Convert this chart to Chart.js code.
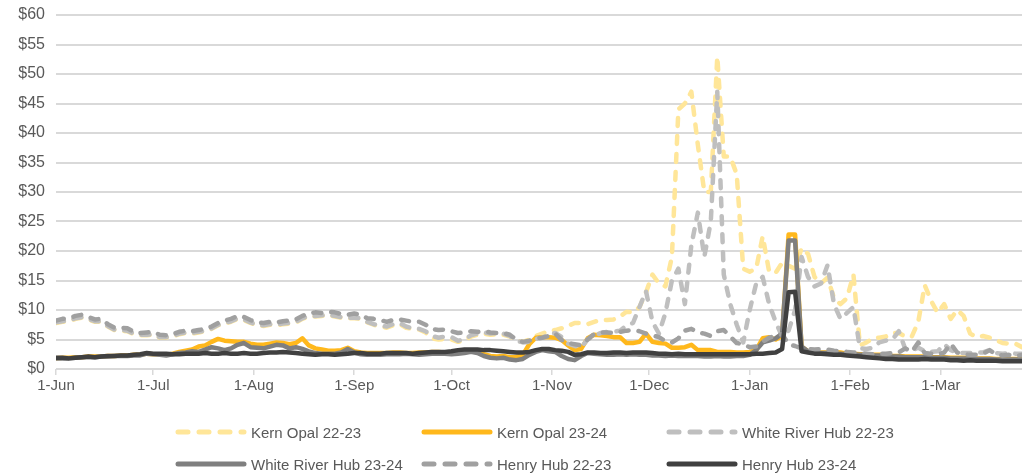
<!DOCTYPE html>
<html>
<head>
<meta charset="utf-8">
<script src="https://cdn.jsdelivr.net/npm/chart.js@4.4.1/dist/chart.umd.min.js"></script>
<style>
  body { margin: 0; background: #fff; }
  #wrap { position: relative; width: 1025px; height: 473px; }
  #myChart { display: block; }
  .legend-item { position: absolute; display: flex; align-items: center; height: 20px;
    font-family: "Liberation Sans", Arial, sans-serif; font-size: 15px; color: #595959; white-space: nowrap; }
  .legend-item svg { margin-right: 4px; }
</style>
</head>
<body>
<div id="wrap">
  <canvas id="myChart" width="1025" height="473"></canvas>
</div>
<script>
// MONTH TICKS (DAY NUMBER COUNTED FROM 1-JUN)
let monthLabels = ["1-Jun", "1-Jul", "1-Aug", "1-Sep", "1-Oct", "1-Nov", "1-Dec", "1-Jan", "1-Feb", "1-Mar"];
let monthDays = [0, 30, 61, 92, 122, 153, 183, 214, 245, 273];
let dayStep = 2; // one value every 2 days
let lastDay = 298;

let seriesNames = ["Kern Opal 22-23", "Kern Opal 23-24", "White River Hub 22-23", "White River Hub 23-24", "Henry Hub 22-23", "Henry Hub 23-24"];

// PRICES ($/MMBtu)
let kernOpal2223 = [
	7.8,8.0,8.1,8.5,8.7,8.4,8.0,8.0,7.2,6.6,
	6.5,6.4,5.9,5.7,5.7,5.8,5.3,5.3,5.5,5.9,
	6.1,6.0,6.2,6.4,6.8,7.4,7.7,8.0,8.5,8.3,
	7.8,7.4,7.3,7.5,7.4,7.6,7.7,7.9,8.5,8.9,
	8.9,9.0,9.1,8.9,8.7,8.6,8.6,8.5,7.9,7.5,
	7.2,7.0,7.4,7.6,7.0,6.8,6.7,6.2,5.2,5.0,
	5.1,5.0,4.6,4.8,5.5,5.8,6.0,5.8,5.9,5.8,
	5.5,4.8,4.6,5.0,5.6,6.0,6.4,6.6,6.9,7.3,
	7.8,7.8,7.6,8.0,8.3,8.3,8.4,8.9,9.7,9.6,
	10.5,13.0,16.0,14.5,14.0,19.0,44.0,45.0,47.0,38.0,
	30.0,30.0,53.0,36.0,36.0,33.0,17.0,16.5,17.0,22.5,
	16.5,16.3,18.0,17.5,17.0,20.5,19.5,15.6,14.5,15.5,
	12.0,11.0,12.0,16.0,4.0,4.5,5.2,5.3,5.5,6.1,
	6.1,5.5,5.5,8.0,14.2,11.5,9.5,11.0,8.5,10.0,
	9.0,6.0,5.4,5.6,5.3,4.9,4.4,4.3,4.3,3.7
];
let kernOpal2324 = [
	1.8,1.9,1.9,2.0,2.0,2.1,2.1,2.1,2.2,2.2,
	2.3,2.3,2.4,2.4,2.6,2.5,2.5,2.4,2.6,2.9,
	3.1,3.3,3.8,4.0,4.6,5.1,4.8,4.7,4.6,4.6,
	4.3,4.1,4.1,4.3,4.5,4.4,4.2,4.4,5.2,4.0,
	3.5,3.3,3.1,3.1,3.2,3.6,3.0,2.8,2.7,2.7,
	2.7,2.7,2.8,2.8,2.7,2.7,2.8,2.8,2.9,2.9,
	2.8,2.8,2.9,3.0,3.1,2.9,2.5,2.2,2.1,2.2,
	2.0,2.0,2.4,4.2,5.3,5.4,5.4,5.3,4.9,4.0,
	3.2,3.4,5.2,5.8,5.7,5.6,5.4,5.4,4.4,4.4,
	4.6,6.0,4.6,4.4,4.3,3.6,3.6,3.7,4.1,3.2,
	3.2,3.2,2.9,2.9,2.9,2.8,2.8,2.9,3.2,5.2,
	5.4,5.0,5.6,22.8,22.8,3.8,3.0,2.9,2.8,2.8,
	2.9,2.8,2.6,2.6,2.5,2.5,2.4,2.4,2.3,2.2,
	2.2,2.1,2.1,2.1,2.1,2.0,2.0,2.0,1.9,1.9,
	1.9,1.9,1.8,1.8,1.8,1.7,1.7,1.7,1.7,1.7
];
let whiteRiver2223 = [
	7.9,8.1,8.2,8.6,8.8,8.5,8.1,8.1,7.3,6.7,
	6.6,6.5,6.0,5.8,5.8,5.9,5.4,5.4,5.6,6.0,
	6.2,6.1,6.3,6.5,6.9,7.5,7.8,8.1,8.6,8.4,
	7.9,7.5,7.4,7.6,7.5,7.7,7.8,8.0,8.6,9.0,
	9.0,9.1,9.2,9.0,8.8,8.7,8.7,8.6,8.0,7.6,
	7.3,7.2,7.6,7.8,7.2,6.9,6.8,6.4,5.6,5.3,
	5.5,5.4,4.8,5.0,5.7,6.0,6.2,6.0,6.1,6.0,
	5.6,4.8,4.5,4.6,5.1,5.3,5.8,6.1,5.4,4.3,
	3.9,3.7,5.0,5.6,6.1,6.3,6.3,6.5,7.4,7.8,
	10.5,13.2,8.0,6.0,9.5,15.0,17.0,11.0,21.0,26.5,
	19.0,25.0,47.0,16.0,11.0,7.5,4.5,10.0,14.5,15.6,
	11.0,8.0,5.5,6.5,10.0,19.0,15.6,14.0,14.5,17.6,
	11.0,8.5,9.5,10.5,3.5,3.4,3.6,4.5,4.8,5.0,
	6.4,3.4,3.2,3.6,3.0,2.9,3.0,4.2,3.2,2.8,
	2.7,2.7,2.8,2.8,3.2,2.7,2.6,2.7,2.6,2.6
];
let whiteRiver2324 = [
	1.8,1.8,1.8,1.9,2.0,2.0,2.0,2.1,2.1,2.2,
	2.2,2.2,2.3,2.3,2.6,2.5,2.4,2.3,2.5,2.7,
	2.8,3.0,2.9,3.3,3.7,3.5,3.2,3.5,4.1,4.4,
	3.7,3.6,3.5,3.8,4.1,4.0,3.5,3.7,3.4,3.0,
	2.7,2.6,2.6,2.6,2.8,3.4,2.8,2.5,2.4,2.4,
	2.4,2.5,2.5,2.5,2.6,2.5,2.4,2.5,2.6,2.6,
	2.6,2.5,2.6,2.7,2.9,2.7,2.2,1.9,1.8,1.9,
	1.6,1.5,1.7,2.4,2.9,3.2,3.0,2.9,2.2,1.7,
	1.5,2.2,2.7,2.6,2.5,2.4,2.4,2.5,2.4,2.5,
	2.4,2.4,2.3,2.3,2.2,2.3,2.2,2.2,2.2,2.2,
	2.1,2.1,2.2,2.1,2.1,2.2,2.2,2.4,3.2,4.5,
	4.8,5.2,6.0,21.8,21.8,3.8,3.0,2.8,2.7,2.7,
	2.6,2.6,2.5,2.5,2.4,2.4,2.3,2.3,2.2,2.1,
	2.1,2.0,2.0,2.0,2.0,1.9,1.9,1.9,1.8,1.8,
	1.8,1.8,1.7,1.7,1.7,1.6,1.6,1.6,1.6,1.6
];
let henryHub2223 = [
	8.2,8.5,8.6,9.0,9.2,8.8,8.4,8.5,7.6,7.0,
	7.0,6.9,6.3,6.1,6.2,6.3,5.8,5.7,5.9,6.3,
	6.5,6.4,6.6,6.8,7.2,7.8,8.2,8.5,9.0,8.8,
	8.3,7.9,7.8,8.0,7.9,8.1,8.2,8.4,9.0,9.4,
	9.6,9.5,9.7,9.6,9.3,9.2,9.4,9.2,8.6,8.5,
	8.3,8.0,8.3,8.4,8.2,8.0,8.0,7.5,6.8,6.6,
	6.7,6.4,6.1,6.2,6.4,6.3,6.4,6.2,6.1,6.1,
	5.8,5.0,4.6,4.8,5.2,5.3,5.6,6.0,4.9,4.4,
	4.2,4.0,5.0,5.9,6.2,6.2,6.1,6.3,6.5,6.6,
	6.4,6.0,5.7,5.4,4.7,4.5,5.2,6.5,6.8,6.2,
	6.0,5.6,6.4,6.6,5.5,4.4,4.2,3.7,3.8,4.6,
	5.3,5.6,5.9,4.2,3.9,3.5,3.4,3.3,3.4,3.3,
	3.1,3.0,2.9,2.8,2.7,2.6,2.5,2.6,2.6,2.7,
	2.8,3.5,2.9,4.5,2.7,2.6,2.5,2.8,4.3,2.8,
	2.5,2.4,2.4,2.6,3.2,2.5,2.3,2.4,2.2,2.4
];
let henryHub2324 = [
	1.9,1.9,1.8,1.9,2.0,2.1,2.0,2.1,2.2,2.2,
	2.3,2.3,2.4,2.5,2.7,2.6,2.6,2.6,2.5,2.5,
	2.6,2.6,2.6,2.7,2.6,2.6,2.7,2.6,2.6,2.7,
	2.6,2.6,2.7,2.8,2.8,2.9,2.8,2.7,2.6,2.5,
	2.4,2.5,2.5,2.4,2.5,2.6,2.7,2.7,2.6,2.6,
	2.6,2.7,2.7,2.7,2.7,2.6,2.7,2.8,2.9,2.9,
	2.9,3.0,3.2,3.3,3.3,3.3,3.2,3.2,3.1,3.0,
	2.9,2.8,2.8,2.9,3.2,3.4,3.4,3.2,3.1,2.9,
	2.4,2.5,2.8,2.8,2.7,2.7,2.8,2.8,2.7,2.8,
	2.8,2.8,2.7,2.6,2.6,2.5,2.6,2.5,2.5,2.5,
	2.5,2.5,2.5,2.5,2.5,2.5,2.5,2.5,2.6,2.6,
	2.7,2.8,3.4,13.0,13.1,3.0,2.8,2.6,2.6,2.5,
	2.4,2.4,2.3,2.2,2.1,2.0,1.9,1.8,1.7,1.7,
	1.6,1.6,1.6,1.6,1.7,1.6,1.6,1.6,1.5,1.5,
	1.4,1.5,1.4,1.4,1.4,1.4,1.3,1.3,1.3,1.3
];

let seriesColors = ["#FFE699", "#FFB81C", "#BFBFBF", "#7F7F7F", "#A0A0A0", "#404040"];
let seriesDashed = [true, false, true, false, true, false];
let seriesValues = [kernOpal2223, kernOpal2324, whiteRiver2223, whiteRiver2324, henryHub2223, henryHub2324];

// TURN A VALUE LIST INTO {x: day, y: price} POINTS
function toPoints(values) {
	return values.map((v, i) => ({ x: i * dayStep, y: v }));
}

let datasets = seriesNames.map((name, i) => ({
	label: name,
	data: toPoints(seriesValues[i]),
	borderColor: seriesColors[i],
	backgroundColor: seriesColors[i],
	borderWidth: 4.5,
	borderDash: seriesDashed[i] ? [8, 10] : [],
	borderCapStyle: "round",
	borderJoinStyle: "round",
	pointRadius: 0,
	tension: 0,
	order: seriesNames.length - i, // later series on top
}));

const fontFamily = '"Liberation Sans", Arial, sans-serif';

const ctx = document.getElementById("myChart").getContext("2d");
const myChart = new Chart(ctx, {
	type: "line",
	data: { datasets: datasets },
	options: {
		responsive: false,
		animation: false,
		devicePixelRatio: 1,
		layout: { padding: { top: 15, right: 3, bottom: 74, left: 0 } },
		plugins: { legend: { display: false }, tooltip: { enabled: false } },
		scales: {
			x: {
				type: "linear",
				min: 0,
				max: lastDay,
				afterBuildTicks: (scale) => {
					scale.ticks = monthDays.map((d) => ({ value: d }));
				},
				afterFit: (scale) => { scale.height = 30; },
				ticks: {
					autoSkip: false,
					maxRotation: 0,
					padding: 2,
					color: "#595959",
					font: { family: fontFamily, size: 15 },
					callback: (value, index) => monthLabels[index],
				},
				grid: { drawOnChartArea: false, drawTicks: true, tickLength: 6, color: "#D9D9D9", lineWidth: 1.5 },
				border: { display: false },
			},
			y: {
				min: 0,
				max: 60,
				afterFit: (scale) => {
					scale.width = 56;
					scale.paddingTop = 0;
					scale.paddingBottom = 0;
				},
				ticks: {
					stepSize: 5,
					padding: 11,
					color: "#595959",
					font: { family: fontFamily, size: 16 },
					callback: (v) => "$" + v,
				},
				grid: { color: "#D9D9D9", lineWidth: 2, drawTicks: false },
				border: { display: false },
			},
		},
	},
});

// LEGEND: 3 COLUMNS x 2 ROWS UNDER THE CHART
let legendCols = [175, 421, 666];
let legendRows = [432, 464];
let wrap = document.getElementById("wrap");
seriesNames.forEach((name, i) => {
	let item = document.createElement("div");
	item.className = "legend-item";
	item.style.left = legendCols[i % 3] + "px";
	item.style.top = (legendRows[Math.floor(i / 3)] - 10) + "px";
	let dash = seriesDashed[i] ? ' stroke-dasharray="10 11"' : "";
	item.innerHTML =
		'<svg width="72" height="12"><line x1="3" y1="6" x2="69" y2="6" stroke="' + seriesColors[i] +
		'" stroke-width="5" stroke-linecap="round"' + dash + "/></svg><span>" + name + "</span>";
	wrap.appendChild(item);
});
</script>
</body>
</html>
